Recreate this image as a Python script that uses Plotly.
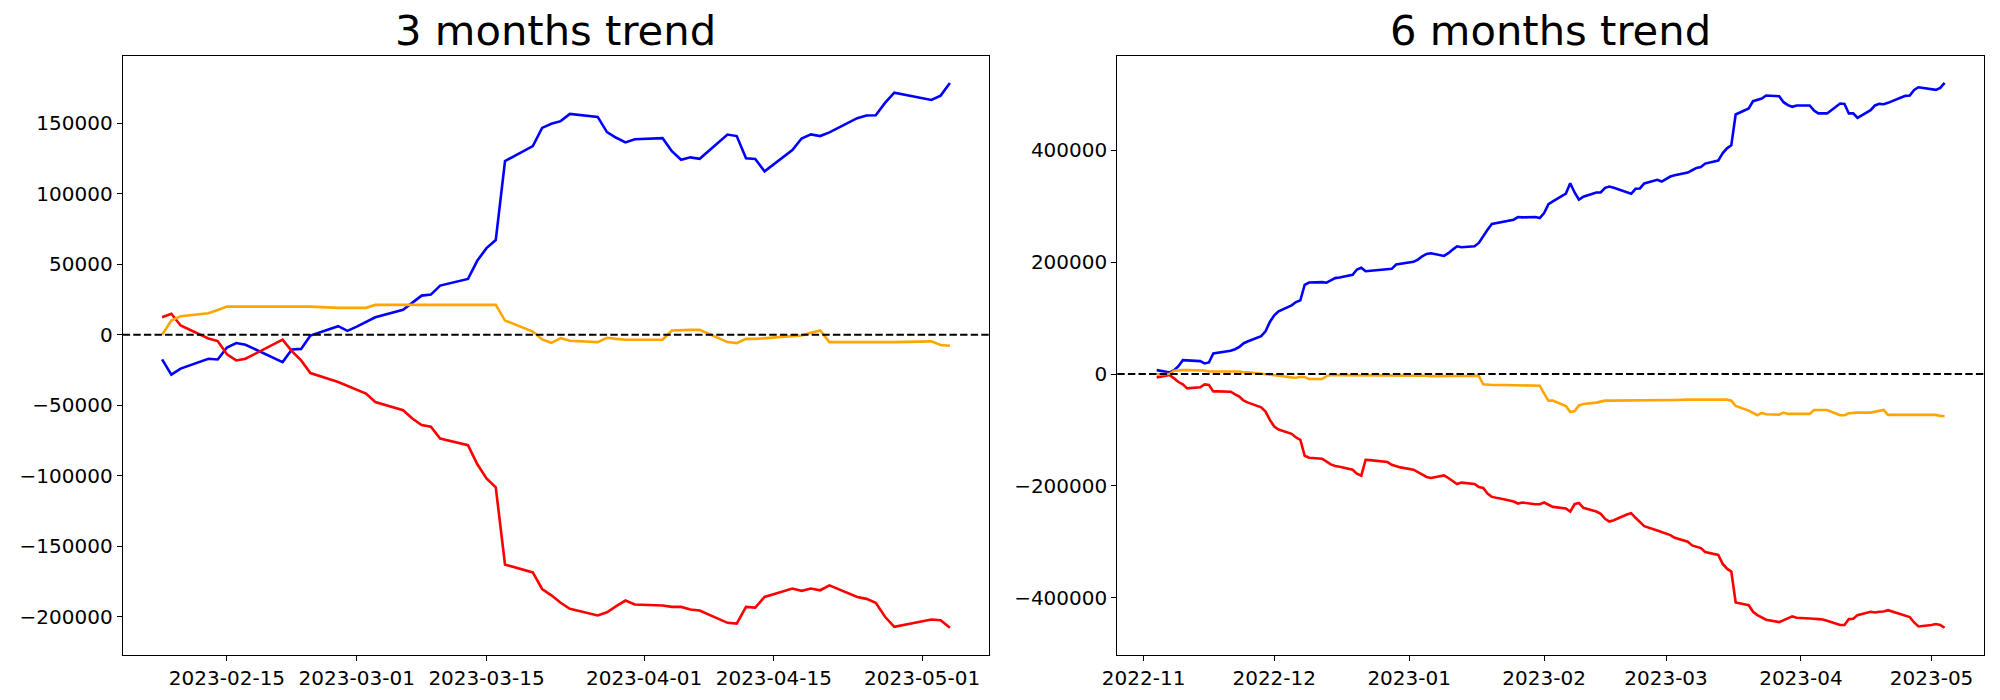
import pandas as pd
import plotly.graph_objects as go
from plotly.subplots import make_subplots

# ---------------- data ----------------
titles = ["3 months trend", "6 months trend"]

dates_3m = pd.bdate_range("2023-02-08", "2023-05-04", freq="C",
                          holidays=["2023-02-20", "2023-05-01"])
blue_3m = [
    -17500, -28300, -24000,
    -17000, -17500, -9000, -5900, -7100,
    -19400, -10400, -10000, -500,
    6100, 2800, 5800, 8900, 12400,
    17700, 22600, 27800, 28500, 34900,
    39600, 52500, 61500, 67200, 123300,
    133900, 146800, 149700, 151600, 156700,
    154600, 143800, 139800, 136500, 138800,
    139500, 130300, 124200, 125900, 124900,
    142100, 141000, 125200, 124700, 116000,
    131100, 139300, 142200, 141000, 143600,
    153700, 155600, 155800, 164500, 171800,
    166600, 169700, 178700]
red_3m = [
    12500, 14900, 6600,
    -2600, -4500, -13900, -18200, -17000,
    -3500, -11600, -18200, -27200,
    -33500, -36300, -39000, -41700, -47700,
    -53500, -59400, -64100, -65300, -73600,
    -78300, -91700, -101900, -108200, -163100,
    -168600, -180400, -184900, -190200, -194500,
    -199200, -196900, -192600, -188600, -191400,
    -192100, -193100, -193100, -195000, -195700,
    -204400, -204900, -193100, -193600, -186000,
    -180100, -181700, -180100, -181300, -177800,
    -186000, -187400, -190200, -200100, -207200,
    -202000, -202500, -207900]
orange_3m = [
    0, 10100, 13200,
    15300, 17600, 20000, 20000, 20000,
    20000, 20000, 20000, 20000,
    19100, 19100, 19100, 19100, 21200,
    21200, 21200, 21200, 21200, 21200,
    21200, 21200, 21200, 21200, 10100,
    2300, -3300, -5700, -2400, -4200,
    -5200, -2100, -2900, -3500, -3500,
    -3500, 3000, 3500, 3500, 3500,
    -5200, -5900, -2900, -2900, -2400,
    -1000, -500, 1400, 3100, -5200,
    -5200, -5700, -5400, -5400, -5200,
    -4700, -7300, -7800]

dates_6m = pd.bdate_range("2022-11-04", "2023-05-04")
blue_6m = [
    7100,
    3000, 7100, 14200, 24900, 24300,
    23200, 19000, 20800, 36800, 38000,
    41600, 44500, 48700, 55200, 58800,
    67700, 76600, 93200, 105100, 112200,
    122900, 128800, 131800, 159700, 163800,
    164400, 163300, 167400, 171600, 172800,
    177500, 187000, 190000, 184000, 184600,
    186400, 186900, 188200, 195900, 197100,
    200700, 204800, 210700, 214900, 216100,
    211300, 216100, 222600, 228500, 226800,
    228500, 234500, 247600, 258200, 268300,
    272500, 274300, 276000, 280800, 280200,
    280800, 279000, 288000, 303900, 308700,
    322900, 341300, 324700, 311700, 317000,
    324700, 324700, 333000, 335400, 333000,
    324700, 322400, 331300, 331900, 340800,
    347300, 344300, 348500, 353200, 355600,
    360300, 364500, 368700, 370400, 376400,
    381700, 394800, 403700, 409000, 464200,
    474900, 488000, 491000, 492700, 498100,
    496900, 486200, 480900, 477900, 480300,
    480300, 471400, 466100, 466100, 466100,
    483900, 483200, 466100, 466100, 458300,
    471900, 480300, 483200, 482600, 485000,
    494500, 497500, 498100, 508200, 512900,
    509300, 508200, 511700, 520600]
red_6m = [
    -5900,
    -1800, -7700, -14200, -18400, -25500,
    -23700, -18400, -19600, -30900, -30900,
    -31500, -36200, -40400, -47500, -51000,
    -59400, -67100, -81900, -93800, -99100,
    -106900, -113400, -117500, -146000, -149600,
    -151400, -156100, -161500, -164400, -165600,
    -171000, -178100, -181700, -153200, -153800,
    -156100, -157300, -162100, -165000, -166800,
    -171000, -175100, -179900, -184000, -185800,
    -181100, -185800, -191700, -196500, -194100,
    -196500, -201800, -203600, -213700, -219600,
    -224400, -226200, -228000, -231500, -229700,
    -232700, -232700, -229700, -233900, -237500,
    -240400, -245800, -232700, -230300, -239200,
    -245800, -249900, -258800, -263600, -261200,
    -251100, -248700, -257000, -264200, -271900,
    -279600, -282600, -285000, -287900, -292700,
    -299800, -306300, -309300, -311100, -318200,
    -323500, -339000, -347900, -353200, -408400,
    -413200, -425100, -431000, -435700, -439300,
    -443500, -439900, -435700, -433300, -435700,
    -436300, -437500, -438100, -438700, -441100,
    -448800, -448800, -438100, -437500, -431000,
    -425100, -426300, -425100, -424500, -422100,
    -430400, -432200, -434600, -444100, -451200,
    -448800, -447000, -448800, -453600]
orange_6m = [
    -1000,
    500, 5900, 7100, 7100, 7100,
    7100, 6500, 4700, 4700, 4700,
    4200, 4200, 4700, 3000, 3000,
    600, 0, -600, -1200, -3000,
    -5900, -6500, -4700, -5300, -8900,
    -8900, -3600, -1800, -1800, -1800,
    -1800, -2400, -2400, -2400, -2400,
    -1800, -1800, -1800, -1800, -1800,
    -1800, -1800, -2400, -3000, -3600,
    -3600, -3600, -3000, -2400, -2400,
    -2400, -3000, -18400, -19600, -19600,
    -19600, -19600, -19600, -20200, -20800,
    -20800, -20800, -35000, -47500, -47500,
    -57000, -67700, -66000, -56000, -53400,
    -51000, -49300, -47500, -47500, -47500,
    -47500, -47500, -47500, -47500, -47500,
    -47500, -47500, -47500, -46300, -46300,
    -45700, -45700, -45700, -45700, -45700,
    -45700, -45700, -45700, -47500, -57000,
    -65300, -70100, -73600, -69500, -71800,
    -72400, -68900, -71200, -71200, -71200,
    -71200, -64100, -64100, -64100, -64100,
    -73600, -73600, -70100, -68900, -68900,
    -68900, -67700, -66500, -64100, -73000,
    -73000, -73000, -73000, -73000, -73000,
    -73000, -73000, -74800, -75400]

ticks_3m = ["2023-02-15", "2023-03-01", "2023-03-15",
            "2023-04-01", "2023-04-15", "2023-05-01"]
ticks_6m = ["2022-11-01", "2022-12-01", "2023-01-01", "2023-02-01",
            "2023-03-01", "2023-04-01", "2023-05-01"]

# ---------------- figure ----------------
W, H = 2000, 700
dom_x = [[122.7 / W, 989.3 / W], [1117.3 / W, 1984.0 / W]]
dom_y = [1 - 655.0 / H, 1 - 55.7 / H]

fig = make_subplots(rows=1, cols=2)
FONT = "DejaVu Sans"

panels = [
    (dates_3m, blue_3m, red_3m, orange_3m, ticks_3m, "%Y-%m-%d", 50000),
    (dates_6m, blue_6m, red_6m, orange_6m, ticks_6m, "%Y-%m", 200000),
]

for i, (d, b, r, o, tv, tf, dt) in enumerate(panels):
    col = i + 1
    for ys, c in ((b, "#0000ff"), (r, "#ff0000"), (o, "#ffa500")):
        fig.add_trace(go.Scatter(x=d, y=ys, mode="lines",
                                 line=dict(color=c, width=2.6),
                                 showlegend=False, hoverinfo="skip"),
                      row=1, col=col)
    # matplotlib-like 5% margins
    d0, d1 = d.min(), d.max()
    span = d1 - d0
    xr = [d0 - span * 0.05, d1 + span * 0.05]
    allv = list(b) + list(r) + list(o) + [0]
    lo, hi = min(allv), max(allv)
    yr = [lo - 0.05 * (hi - lo), hi + 0.05 * (hi - lo)]

    axis_common = dict(showline=True, mirror=True, linecolor="black",
                       linewidth=1.1, ticks="outside", ticklen=5,
                       tickwidth=1.1, tickcolor="black", showgrid=False,
                       zeroline=False, automargin=False,
                       tickfont=dict(family=FONT, size=20, color="black"))
    fig.update_xaxes(range=xr, tickvals=tv, tickformat=tf,
                     domain=dom_x[i], **axis_common, row=1, col=col)
    fig.update_yaxes(range=yr, dtick=dt, tick0=0, tickformat="d",
                     domain=dom_y, **axis_common, row=1, col=col)
    fig.add_hline(y=0, line=dict(color="black", width=2, dash="7.4px,3.2px"),
                  row=1, col=col)
    fig.add_annotation(text=titles[i], xref="paper", yref="paper",
                       x=sum(dom_x[i]) / 2, y=1 - 31.0 / H,
                       xanchor="center", yanchor="middle", showarrow=False,
                       font=dict(family=FONT, size=41.7, color="black"))

fig.update_layout(width=W, height=H, margin=dict(l=0, r=0, t=0, b=0),
                  paper_bgcolor="white", plot_bgcolor="white",
                  font=dict(family=FONT, color="black"))

fig.write_html("out.html", config={"displayModeBar": False},
               post_script="document.body.style.margin='0';")
